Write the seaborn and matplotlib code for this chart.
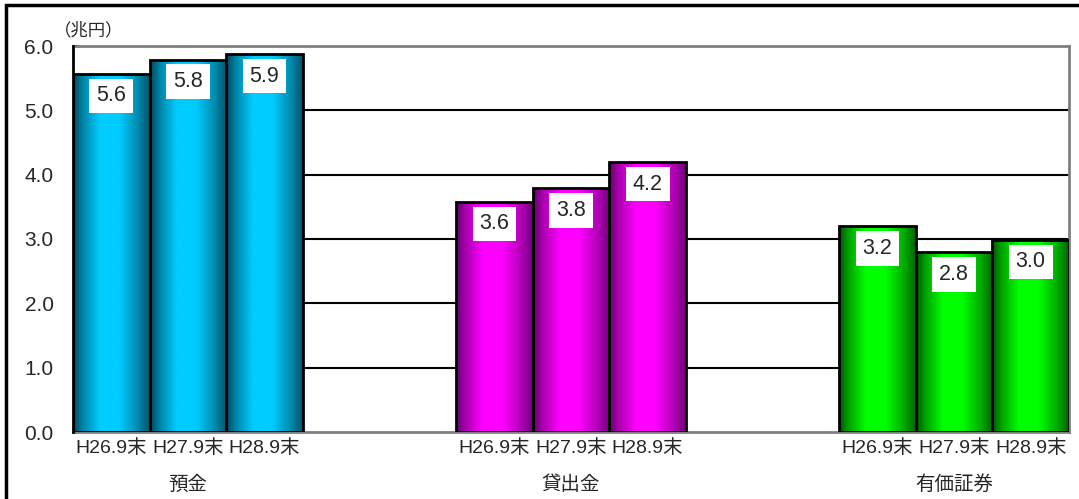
import numpy as np
import pandas as pd
import seaborn as sns
import matplotlib.pyplot as plt
from matplotlib.colors import LinearSegmentedColormap
from matplotlib.patches import Rectangle

# data
groups = ["預金", "貸出金", "有価証券"]
periods = ["H26.9末", "H27.9末", "H28.9末"]
deposits = [5.57, 5.79, 5.88]
loans = [3.58, 3.79, 4.20]
securities = [3.20, 2.80, 2.99]
value_labels = ["5.6", "5.8", "5.9", "3.6", "3.8", "4.2", "3.2", "2.8", "3.0"]
slots = [0, 1, 2, 5, 6, 7, 10, 11, 12]

df = pd.DataFrame({
    "slot": slots,
    "value": deposits + loans + securities,
    "group": np.repeat(groups, 3),
    "period": periods * 3,
    "label": value_labels,
})

sns.set_style("white")
plt.rcParams['font.family'] = ['Liberation Sans', 'Noto Sans CJK JP', 'DejaVu Sans']

fig = plt.figure(figsize=(10.79, 4.99), dpi=100)
ax = fig.add_axes([73 / 1079, 1 - 432 / 499, (1069 - 73) / 1079, (432 - 46) / 499])

sns.barplot(data=df, x="slot", y="value", native_scale=True, width=1.0,
            color="white", edgecolor="black", linewidth=2, ax=ax, zorder=3)

# gradient fills (cylinder look)
bright = {"預金": (0, 0.80, 1.0), "貸出金": (1.0, 0, 1.0), "有価証券": (0, 1.0, 0)}
dark = {"預金": (0, 0.27, 0.35), "貸出金": (0.38, 0, 0.42), "有価証券": (0, 0.33, 0)}
t = np.linspace(0, 1, 200)
prof = np.interp(t, [0, 0.12, 0.35, 0.6, 0.85, 1], [0, 0.45, 1, 1, 0.5, 0.1])

for bar, (_, row) in zip(ax.patches, df.iterrows()):
    cmap = LinearSegmentedColormap.from_list("g", [dark[row.group], bright[row.group]])
    x0, w, h = bar.get_x(), bar.get_width(), bar.get_height()
    img = ax.imshow(prof[None, :], cmap=cmap, vmin=0, vmax=1, aspect="auto",
                    extent=(x0, x0 + w, 0, h), zorder=2.5, interpolation="bilinear")
    img.set_clip_path(bar)
    bar.set_facecolor("none")
    ax.annotate(row.label, (x0 + w / 2, h), xytext=(0, -8.5), textcoords="offset points",
                ha="center", va="top", fontsize=15.5, zorder=5,
                bbox=dict(boxstyle="square,pad=0.32", fc="white", ec="none"))

ax.set_xlim(-0.5, 12.5)
ax.set_ylim(0, 6)
ax.set_yticks(np.arange(0, 6.1, 1))
ax.set_yticklabels([f"{v:.1f}" for v in np.arange(0, 6.1, 1)], fontsize=15)
ax.tick_params(axis="y", direction="in", length=4, width=1.5, color="black", pad=14, left=True)
ax.set_xticks(slots)
ax.set_xticklabels(periods * 3, fontsize=14)
ax.tick_params(axis="x", length=0, pad=5)
ax.set_xlabel("")
ax.set_ylabel("")

for v in range(1, 6):
    ax.axhline(v, color="black", lw=1.5, zorder=1)
for s in ["top", "right", "bottom"]:
    ax.spines[s].set_color("#808080")
    ax.spines[s].set_linewidth(2)
    ax.spines[s].set_zorder(1)
ax.spines["left"].set_color("black")
ax.spines["left"].set_linewidth(2)

for i, g in enumerate(groups):
    ax.text(slots[i * 3 + 1], -0.137, g, transform=ax.get_xaxis_transform(),
            ha="center", va="center", fontsize=14)

fig.text(89 / 1079, 1 - 30 / 499, "（兆円）", ha="center", va="center", fontsize=12.5)

# outer frame
fig.patches.append(Rectangle((6 / 1079, -0.1), 1.2, 1.1 - 5 / 499,
                             transform=fig.transFigure, fill=False, ec="black", lw=2.5))

fig.savefig("out.png", dpi=100)
